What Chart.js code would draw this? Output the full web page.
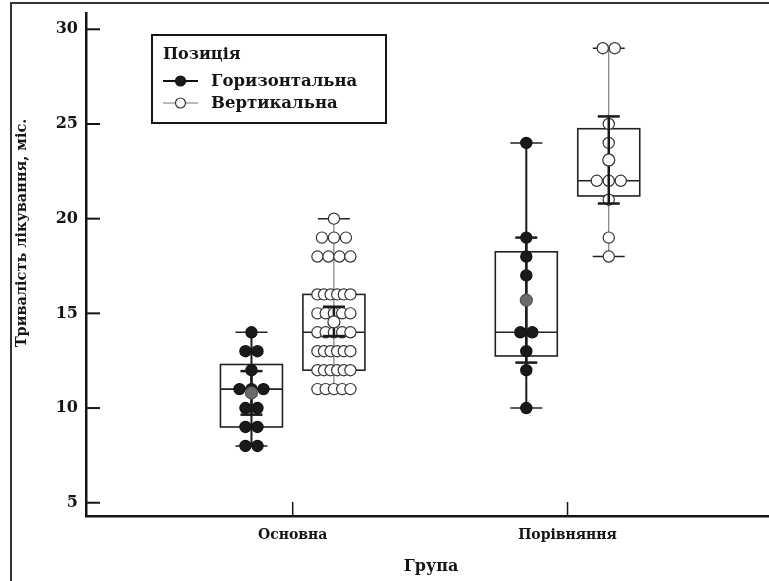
<!DOCTYPE html>
<html><head><meta charset="utf-8">
<script src="https://cdn.jsdelivr.net/npm/chart.js@4.4.1/dist/chart.umd.min.js"></script>
<style>html,body{margin:0;padding:0;background:#fff}</style>
</head><body>
<canvas id="c" width="769" height="581"></canvas>
<script>
// ---------- data ----------
const groups = ['Основна', 'Порівняння'];
const seriesNames = ['Горизонтальна', 'Вертикальна'];
const legendTitle = 'Позиція';
const xTitle = 'Група';
const yTitle = 'Тривалість лікування, міс.';
const yTickValues = [5, 10, 15, 20, 25, 30];

const horizontalValues = [
  [8, 8, 9, 9, 10, 10, 11, 11, 11, 12, 13, 13, 14],
  [10, 12, 13, 14, 14, 17, 18, 19, 24]
];
const verticalValues = [
  [11, 11, 11, 11, 11, 12, 12, 12, 12, 12, 12, 13, 13, 13, 13, 13, 13, 14, 14, 14, 14, 14,
   15, 15, 15, 15, 15, 16, 16, 16, 16, 16, 16, 18, 18, 18, 18, 19, 19, 19, 20],
  [18, 19, 21, 22, 22, 22, 24, 25, 29, 29]
];

const horizontalMin = [8, 10];
const horizontalQ1 = [9, 12.75];
const horizontalMedian = [11, 14];
const horizontalQ3 = [12.3, 18.25];
const horizontalMax = [14, 24];
const horizontalMean = [10.8, 15.7];
const horizontalCiLow = [9.65, 12.4];
const horizontalCiHigh = [11.95, 19.0];

const verticalMin = [11, 18];
const verticalQ1 = [12, 21.2];
const verticalMedian = [14, 22];
const verticalQ3 = [16, 24.75];
const verticalMax = [20, 29];
const verticalMean = [14.55, 23.1];
const verticalCiLow = [13.8, 20.8];
const verticalCiHigh = [15.35, 25.4];

// ---------- layout / style ----------
const X_MIN = 0.248, X_MAX = 2.733, Y_MIN = 4.3, Y_MAX = 30.86;
const AREA_LEFT = 86, AREA_RIGHT = 769;
const PX_PER_X = (AREA_RIGHT - AREA_LEFT) / (X_MAX - X_MIN);
const OFFSET = 0.15;            // series offset from group centre (x units)
const FONT = 'DejaVu Serif';
const INK = '#151515';

function swarm(values, center) {
  const counts = {}, seen = {};
  values.forEach(v => counts[v] = (counts[v] || 0) + 1);
  return values.map(v => {
    const n = counts[v];
    const i = seen[v] = (seen[v] === undefined ? 0 : seen[v] + 1);
    const sp = n > 1 ? Math.min(12, 33 / (n - 1)) : 0;
    return { x: center + (i - (n - 1) / 2) * sp / PX_PER_X, y: v };
  });
}

const series = [
  { name: seriesNames[0], values: horizontalValues, min: horizontalMin, q1: horizontalQ1, med: horizontalMedian,
    q3: horizontalQ3, max: horizontalMax, mean: horizontalMean, ciLo: horizontalCiLow, ciHi: horizontalCiHigh,
    off: -OFFSET, whiskerColor: '#1a1a1a', whiskerWidth: 2, fill: '#1a1a1a', stroke: '#111', meanFill: '#6b6b6b', meanStroke: '#555' },
  { name: seriesNames[1], values: verticalValues, min: verticalMin, q1: verticalQ1, med: verticalMedian,
    q3: verticalQ3, max: verticalMax, mean: verticalMean, ciLo: verticalCiLow, ciHi: verticalCiHigh,
    off: OFFSET, whiskerColor: '#666', whiskerWidth: 1, fill: '#ffffff', stroke: '#333', meanFill: '#ffffff', meanStroke: '#333' }
];

const datasets = series.map(s => ({
  type: 'scatter',
  label: s.name,
  data: groups.flatMap((g, gi) => swarm(s.values[gi], gi + 1 + s.off)),
  pointRadius: 5.6,
  pointBackgroundColor: s.fill,
  pointBorderColor: s.stroke,
  pointBorderWidth: 1.2,
  pointHoverRadius: 5.6
}));

function line(ctx, x1, y1, x2, y2) { ctx.beginPath(); ctx.moveTo(x1, y1); ctx.lineTo(x2, y2); ctx.stroke(); }

const boxPlugin = {
  id: 'boxes',
  beforeDraw(chart) {
    const ctx = chart.ctx;
    ctx.save();
    ctx.fillStyle = '#fff';
    ctx.fillRect(0, 0, chart.width, chart.height);
    ctx.strokeStyle = '#333'; ctx.lineWidth = 2;
    ctx.beginPath(); ctx.moveTo(11, chart.height + 5); ctx.lineTo(11, 3); ctx.lineTo(chart.width + 5, 3); ctx.stroke();
    ctx.restore();
  },
  beforeDatasetsDraw(chart) {
    const ctx = chart.ctx, xs = chart.scales.x, ys = chart.scales.y;
    ctx.save();
    series.forEach(s => groups.forEach((g, gi) => {
      const cx = xs.getPixelForValue(gi + 1 + s.off);
      const half = 31;
      ctx.strokeStyle = s.whiskerColor; ctx.lineWidth = s.whiskerWidth;
      line(ctx, cx, ys.getPixelForValue(s.min[gi]), cx, ys.getPixelForValue(s.max[gi]));
      ctx.strokeStyle = '#222'; ctx.lineWidth = 1.5;
      line(ctx, cx - 16, ys.getPixelForValue(s.min[gi]), cx + 16, ys.getPixelForValue(s.min[gi]));
      line(ctx, cx - 16, ys.getPixelForValue(s.max[gi]), cx + 16, ys.getPixelForValue(s.max[gi]));
      const yTop = ys.getPixelForValue(s.q3[gi]), yBot = ys.getPixelForValue(s.q1[gi]);
      ctx.strokeStyle = '#222'; ctx.lineWidth = 1.6;
      ctx.strokeRect(cx - half, yTop, 2 * half, yBot - yTop);
      line(ctx, cx - half, ys.getPixelForValue(s.med[gi]), cx + half, ys.getPixelForValue(s.med[gi]));
    }));
    ctx.restore();
  },
  afterDatasetsDraw(chart) {
    const ctx = chart.ctx, xs = chart.scales.x, ys = chart.scales.y;
    ctx.save();
    series.forEach(s => groups.forEach((g, gi) => {
      const cx = xs.getPixelForValue(gi + 1 + s.off);
      const lo = ys.getPixelForValue(s.ciLo[gi]), hi = ys.getPixelForValue(s.ciHi[gi]);
      ctx.strokeStyle = '#1a1a1a'; ctx.lineWidth = 2.5;
      line(ctx, cx, lo, cx, hi);
      line(ctx, cx - 11, lo, cx + 11, lo);
      line(ctx, cx - 11, hi, cx + 11, hi);
      ctx.beginPath();
      ctx.arc(cx, ys.getPixelForValue(s.mean[gi]), 6, 0, Math.PI * 2);
      ctx.fillStyle = s.meanFill; ctx.fill();
      ctx.strokeStyle = s.meanStroke; ctx.lineWidth = 1.2; ctx.stroke();
    }));
    ctx.restore();
  },
  afterDraw(chart) {
    const ctx = chart.ctx, xs = chart.scales.x, ys = chart.scales.y, a = chart.chartArea;
    ctx.save();
    ctx.strokeStyle = INK; ctx.lineWidth = 2;
    yTickValues.forEach(v => { const y = ys.getPixelForValue(v); line(ctx, a.left, y, a.left + 14, y); });
    ctx.lineWidth = 1.5;
    groups.forEach((g, gi) => { const x = xs.getPixelForValue(gi + 1); line(ctx, x, a.bottom, x, a.bottom - 14); });
    ctx.fillStyle = INK;
    ctx.textAlign = 'center'; ctx.textBaseline = 'middle';
    ctx.font = 'bold 16px "' + FONT + '"';
    ctx.fillText(xTitle, 431, 567);
    ctx.save();
    ctx.translate(22, 233); ctx.rotate(-Math.PI / 2);
    ctx.font = 'bold 14.5px "' + FONT + '"';
    ctx.fillText(yTitle, 0, 0);
    ctx.restore();
    const L = 152, T = 35, R = 386, B = 123;
    ctx.fillStyle = '#fff'; ctx.fillRect(L, T, R - L, B - T);
    ctx.strokeStyle = INK; ctx.lineWidth = 2; ctx.strokeRect(L, T, R - L, B - T);
    ctx.fillStyle = INK; ctx.textAlign = 'left';
    ctx.font = 'bold 16px "' + FONT + '"';
    ctx.fillText(legendTitle, 163, 55);
    ctx.font = 'bold 16.5px "' + FONT + '"';
    const rows = [81, 103];
    series.forEach((s, i) => {
      const y = rows[i];
      ctx.strokeStyle = i === 0 ? '#111' : '#777'; ctx.lineWidth = i === 0 ? 2 : 1;
      line(ctx, 163, y, 198, y);
      ctx.beginPath(); ctx.arc(180.5, y, 5, 0, Math.PI * 2);
      ctx.fillStyle = s.fill; ctx.fill();
      ctx.strokeStyle = s.stroke; ctx.lineWidth = 1.2; ctx.stroke();
      ctx.fillStyle = INK;
      ctx.fillText(s.name, 211, y + 1);
    });
    ctx.restore();
  }
};

new Chart(document.getElementById('c'), {
  type: 'scatter',
  data: { datasets },
  options: {
    responsive: false, animation: false, devicePixelRatio: 1,
    layout: { autoPadding: false, padding: { top: 13, left: 0, right: 0, bottom: 0 } },
    plugins: { legend: { display: false }, tooltip: { enabled: false } },
    scales: {
      x: {
        type: 'linear', min: X_MIN, max: X_MAX,
        afterBuildTicks: s => { s.ticks = groups.map((g, i) => ({ value: i + 1 })); },
        ticks: { callback: v => groups[Math.round(v) - 1], font: { family: FONT, weight: 'bold', size: 14 },
                 color: INK, padding: 11, autoSkip: false, maxRotation: 0 },
        grid: { display: false, drawTicks: false },
        border: { display: true, color: INK, width: 2.5 },
        afterFit: s => { s.height = 65; s.paddingLeft = 0; s.paddingRight = 0; }
      },
      y: {
        type: 'linear', min: Y_MIN, max: Y_MAX,
        afterBuildTicks: s => { s.ticks = yTickValues.map(v => ({ value: v })); },
        ticks: { font: { family: FONT, weight: 'bold', size: 16 }, color: INK, padding: 8 },
        grid: { display: false, drawTicks: false },
        border: { display: true, color: INK, width: 2.5 },
        afterFit: s => { s.width = 86; s.paddingTop = 0; s.paddingBottom = 0; }
      }
    }
  },
  plugins: [boxPlugin]
});
</script>
</body></html>
